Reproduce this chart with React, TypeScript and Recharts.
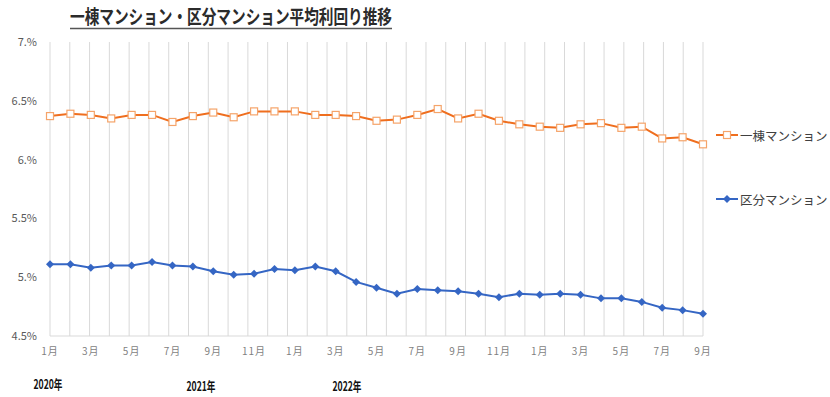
import React from 'react';
import { LineChart, Line, XAxis, YAxis, CartesianGrid } from 'recharts';

const monthLabels = [
  '1月','2月','3月','4月','5月','6月','7月','8月','9月','10月','11月','12月',
  '1月','2月','3月','4月','5月','6月','7月','8月','9月','10月','11月','12月',
  '1月','2月','3月','4月','5月','6月','7月','8月','9月',
];
const ittouValues = [
  6.37, 6.39, 6.38, 6.35, 6.38, 6.38, 6.32, 6.37, 6.40, 6.36, 6.41, 6.41,
  6.41, 6.38, 6.38, 6.37, 6.33, 6.34, 6.38, 6.43, 6.35, 6.39, 6.33, 6.30,
  6.28, 6.27, 6.30, 6.31, 6.27, 6.28, 6.18, 6.19, 6.13,
];
const kubunValues = [
  5.11, 5.11, 5.08, 5.10, 5.10, 5.13, 5.10, 5.09, 5.05, 5.02, 5.03, 5.07,
  5.06, 5.09, 5.05, 4.96, 4.91, 4.86, 4.90, 4.89, 4.88, 4.86, 4.83, 4.86,
  4.85, 4.86, 4.85, 4.82, 4.82, 4.79, 4.74, 4.72, 4.69,
];
const yTicks = [4.5, 5, 5.5, 6, 6.5, 7];
const yearLabels = ['2020年', '2021年', '2022年'];
const yearLabelX = [48, 201, 347];
const yearLabelY = [389, 391, 391];
const seriesNames = ['一棟マンション', '区分マンション'];
const title = '一棟マンション・区分マンション平均利回り推移';

const data = monthLabels.map((m, i) => ({
  month: m,
  ittou: ittouValues[i],
  kubun: kubunValues[i],
}));

const ORANGE = '#ef6e1e';
const ORANGE_LIGHT = '#f5a46a';
const BLUE = '#3566c4';
const FONT = '"Noto Sans CJK JP", "Noto Sans", sans-serif';

const SquareDot = (props: any) => {
  const { cx, cy, index } = props;
  if (cx == null || cy == null) return null;
  return (
    <rect key={`sq-${index}`} x={cx - 3.5} y={cy - 3.5} width={7} height={7}
      fill="#fff" stroke={ORANGE_LIGHT} strokeWidth={1.2} />
  );
};

const DiamondDot = (props: any) => {
  const { cx, cy, index } = props;
  if (cx == null || cy == null) return null;
  const r = 4;
  return (
    <polygon key={`dm-${index}`}
      points={`${cx},${cy - r} ${cx + r},${cy} ${cx},${cy + r} ${cx - r},${cy}`}
      fill={BLUE} />
  );
};

const LegendBox = () => (
  <div style={{ position: 'absolute', left: 716, top: 126, fontFamily: FONT }}>
    <div style={{ display: 'flex', alignItems: 'center', height: 18 }}>
      <svg width={24} height={12}>
        <line x1={0} y1={6} x2={22} y2={6} stroke={ORANGE} strokeWidth={2} />
        <rect x={7.5} y={2.5} width={7} height={7} fill="#fff" stroke={ORANGE_LIGHT} strokeWidth={1.2} />
      </svg>
      <span style={{ fontSize: 12.5, color: '#404040' }}>{seriesNames[0]}</span>
    </div>
    <div style={{ display: 'flex', alignItems: 'center', height: 18, marginTop: 46 }}>
      <svg width={24} height={12}>
        <line x1={0} y1={6} x2={22} y2={6} stroke={BLUE} strokeWidth={2} />
        <polygon points="11,2 15,6 11,10 7,6" fill={BLUE} />
      </svg>
      <span style={{ fontSize: 12.5, color: '#404040' }}>{seriesNames[1]}</span>
    </div>
  </div>
);

export default function App() {
  return (
    <div style={{ position: 'absolute', left: 0, top: 0, width: 830, height: 397, background: '#fff' }}>
      <svg width={830} height={40} style={{ position: 'absolute', left: 0, top: 0 }}>
        <text x={231} y={24} textAnchor="middle" fontFamily={FONT} fontWeight="bold"
          fontSize={19} fill="#2b2b2b" textLength={322} lengthAdjust="spacingAndGlyphs">
          {title}
        </text>
        <line x1={70} y1={28.5} x2={392} y2={28.5} stroke="#555" strokeWidth={1.5} />
      </svg>
      <div style={{ position: 'absolute', left: 0, top: 0 }}>
        <LineChart width={830} height={397} data={data}
          margin={{ top: 42, right: 127, bottom: 31, left: 0 }}>
          <CartesianGrid horizontal={false} stroke="#d9d9d9"
            verticalCoordinatesGenerator={({ offset }: any) =>
              Array.from({ length: data.length + 1 }, (_, i) => offset.left + (i * offset.width) / data.length)
            } />
          <XAxis dataKey="month" interval={1} tickLine={false}
            axisLine={{ stroke: '#d9d9d9' }} height={30} tickMargin={6}
            tick={{ fontSize: 10, fill: '#7f7f7f', fontFamily: FONT, letterSpacing: 1 }} />
          <YAxis domain={[4.5, 7]} ticks={yTicks} width={50} axisLine={false} tickLine={false}
            tickMargin={7}
            tickFormatter={(v: number) => (Number.isInteger(v) ? `${v}.%` : `${v}%`)}
            tick={{ fontSize: 11, fill: '#595959', fontFamily: FONT }} />
          <Line type="linear" dataKey="ittou" name={seriesNames[0]} stroke={ORANGE} strokeWidth={2}
            dot={SquareDot} activeDot={false} isAnimationActive={false} />
          <Line type="linear" dataKey="kubun" name={seriesNames[1]} stroke={BLUE} strokeWidth={2}
            dot={DiamondDot} activeDot={false} isAnimationActive={false} />
        </LineChart>
      </div>
      <LegendBox />
      <svg width={830} height={397} style={{ position: 'absolute', left: 0, top: 0, pointerEvents: 'none' }}>
        {yearLabels.map((t, i) => (
          <text key={t} x={yearLabelX[i]} y={yearLabelY[i]} textAnchor="middle" fontFamily={FONT}
            fontWeight="bold" fontSize={13} fill="#111" textLength={29} lengthAdjust="spacingAndGlyphs">
            {t}
          </text>
        ))}
      </svg>
    </div>
  );
}
